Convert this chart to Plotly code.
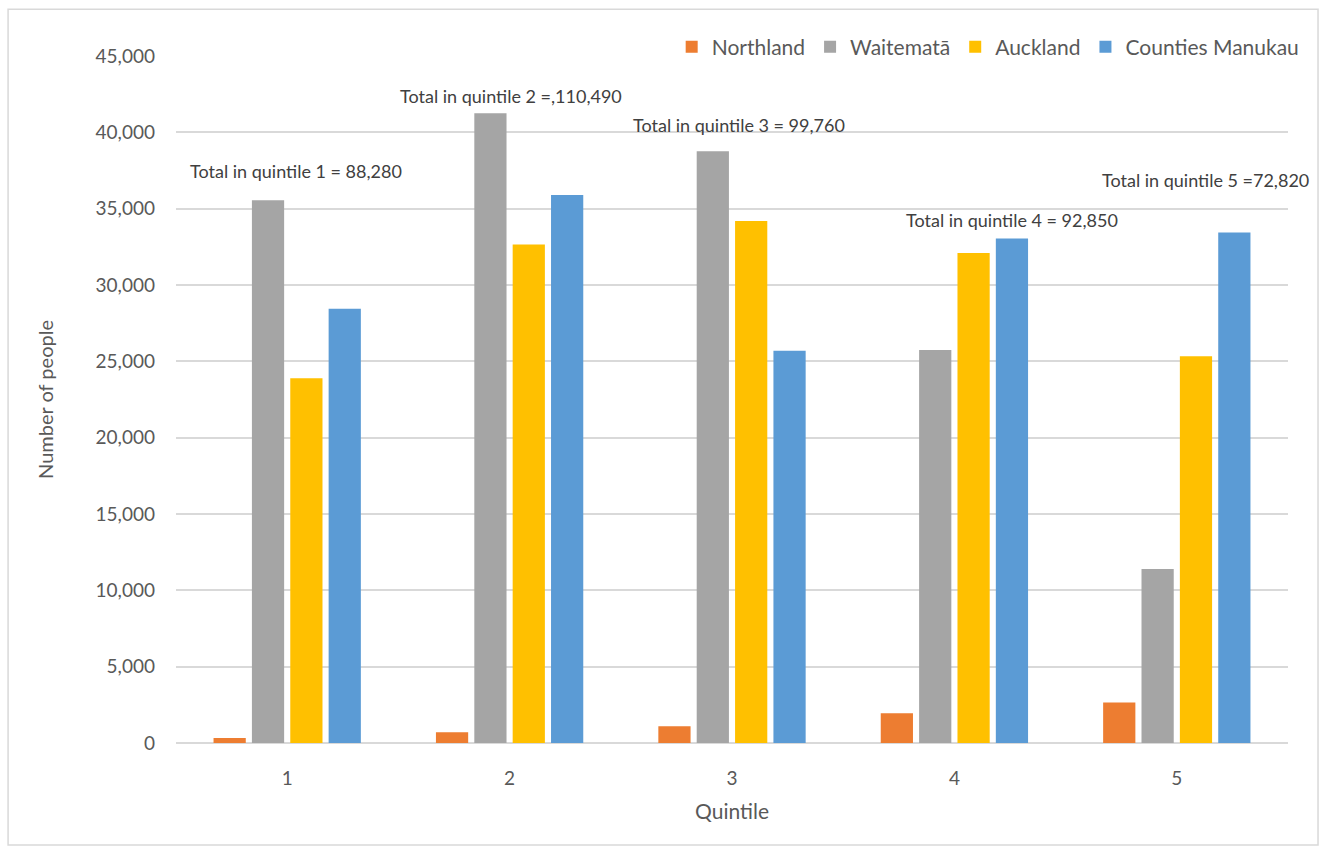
import plotly.graph_objects as go

quintiles = [1, 2, 3, 4, 5]
tick_labels = ["1", "2", "3", "4", "5"]
northland = [330, 700, 1100, 1950, 2650]
waitemata = [35550, 41250, 38760, 25750, 11400]
auckland = [23900, 32650, 34200, 32100, 25330]
counties = [28450, 35900, 25700, 33050, 33440]
totals_text = [
    "Total in quintile 1 = 88,280",
    "Total in quintile 2 =,110,490",
    "Total in quintile 3 = 99,760",
    "Total in quintile 4 = 92,850",
    "Total in quintile 5 =72,820",
]
ann_x = [1.04, 2.005, 3.03, 4.26, 5.13]
ann_y = [37450, 42400, 40500, 34250, 36850]

series = [
    ("Northland", northland, "#ED7D31"),
    ("Waitematā", waitemata, "#A5A5A5"),
    ("Auckland", auckland, "#FFC000"),
    ("Counties Manukau", counties, "#5B9BD5"),
]

FONT = "Lato"
TXT = "#595959"

fig = go.Figure()
for name, vals, col in series:
    fig.add_trace(go.Bar(x=quintiles, y=vals, name=name, marker_color=col,
                         marker_line_width=0))

for t, x, y in zip(totals_text, ann_x, ann_y):
    fig.add_annotation(x=x, y=y, xref="x", yref="y", text=t, showarrow=False,
                       font=dict(family=FONT, size=18, color="#404040"))

fig.add_shape(type="rect", xref="paper", yref="paper",
              x0=-0.151, x1=1.027, y0=-0.1485, y1=1.068,
              line=dict(color="#D9D9D9", width=1.5), fillcolor="rgba(0,0,0,0)",
              layer="below")

fig.update_layout(
    width=1327, height=846,
    margin=dict(l=176, r=39, t=56, b=103),
    paper_bgcolor="white", plot_bgcolor="white",
    barmode="group", bargap=0.31, bargroupgap=0.16,
    font=dict(family=FONT, color=TXT, size=19),
    showlegend=True,
    legend=dict(orientation="h", x=1.015, xanchor="right", y=1.013, yanchor="middle",
                font=dict(size=21, color=TXT), bgcolor="rgba(0,0,0,0)",
                itemwidth=30, traceorder="normal"),
    xaxis=dict(tickmode="array", tickvals=quintiles, ticktext=tick_labels,
               range=[0.5, 5.5], showgrid=False, zeroline=False, showline=False,
               ticks="", ticklabelstandoff=22, tickfont=dict(size=19, color=TXT),
               title=dict(text="Quintile", font=dict(size=21, color=TXT), standoff=16)),
    yaxis=dict(range=[0, 45000], tickvals=list(range(0, 45001, 5000)),
               tickformat=",d", showgrid=True, gridcolor="#D9D9D9", gridwidth=1.5,
               zeroline=True, zerolinecolor="#D9D9D9", zerolinewidth=1.5,
               showline=False, ticks="", ticklabelstandoff=20,
               tickfont=dict(size=19, color=TXT),
               title=dict(text="Number of people", font=dict(size=20, color=TXT), standoff=36)),
)

fig.write_html("out.html")
